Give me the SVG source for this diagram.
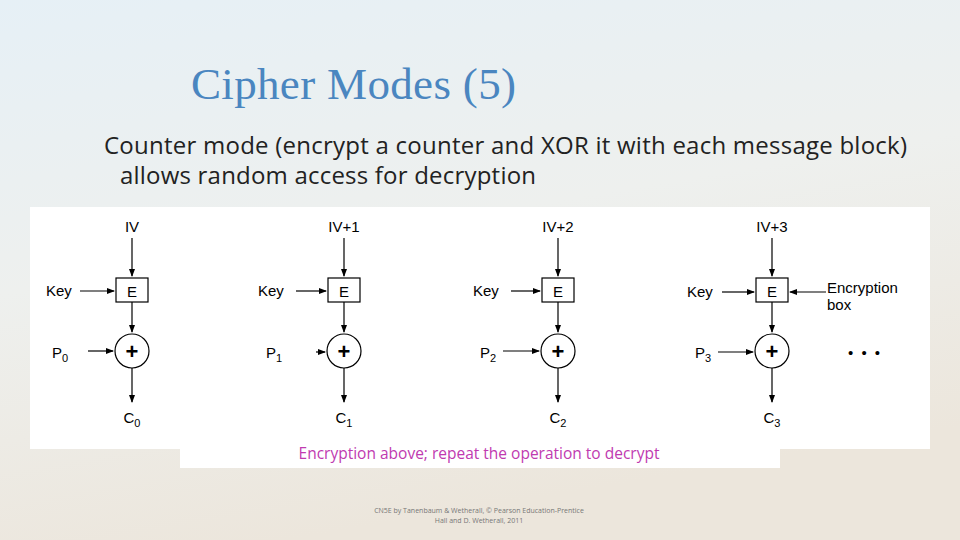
<svg xmlns="http://www.w3.org/2000/svg" width="960" height="540" viewBox="0 0 960 540">
<defs>
<linearGradient id="bg" x1="0" y1="0" x2="0.3" y2="1"><stop offset="0" stop-color="#e6f0f6"/><stop offset="0.5" stop-color="#eef0ee"/><stop offset="1" stop-color="#ece6dc"/></linearGradient>
<marker id="ah" markerWidth="8" markerHeight="8" refX="7" refY="4" orient="auto" markerUnits="userSpaceOnUse"><path d="M0,1 L8,4 L0,7 z" fill="#000"/></marker>
<g id="col">
<line x1="0" y1="238" x2="0" y2="276" class="c"/>
<rect x="-16" y="278" width="32" height="24" fill="#fff" stroke="#000" stroke-width="1.2"/>
<text x="0" y="297" class="t" text-anchor="middle">E</text>
<line x1="0" y1="302" x2="0" y2="332" class="c"/>
<circle cx="0" cy="351" r="17" fill="#fff" stroke="#000" stroke-width="1.2"/>
<text x="0" y="359" text-anchor="middle" font-family="Liberation Sans, sans-serif" font-size="22" font-weight="bold">+</text>
<line x1="0" y1="368" x2="0" y2="402" class="c"/>
</g>
</defs>
<style>
.t{font-family:"Liberation Sans",Arial,sans-serif;font-size:15px;fill:#000}
.c{stroke:#000;stroke-width:1.2;marker-end:url(#ah)}
</style>
<rect width="960" height="540" fill="url(#bg)"/>
<text x="191" y="99" font-family="Liberation Serif, serif" font-size="45" fill="#4a86c0" textLength="325">Cipher Modes (5)</text>
<text x="104" y="154" font-family="Open Sans, sans-serif" font-size="24" fill="#222" textLength="803">Counter mode (encrypt a counter and XOR it with each message block)</text>
<text x="120" y="184" font-family="Open Sans, sans-serif" font-size="24" fill="#222" textLength="416">allows random access for decryption</text>
<rect x="30" y="207" width="900" height="242" fill="#fff"/>
<rect x="180" y="449" width="600" height="19" fill="#fff"/>
<g id="connectors">
<line x1="80" y1="291" x2="114" y2="291" class="c"/>
<line x1="88" y1="351" x2="113" y2="351" class="c"/>
<line x1="296" y1="291" x2="326" y2="291" class="c"/>
<line x1="316" y1="352" x2="325" y2="352" class="c"/>
<line x1="511" y1="291" x2="540" y2="291" class="c"/>
<line x1="503" y1="351" x2="539" y2="351" class="c"/>
<line x1="722" y1="292" x2="754" y2="292" class="c"/>
<line x1="826" y1="292" x2="790" y2="292" class="c"/>
<line x1="718" y1="352" x2="753" y2="352" class="c"/>
</g>
<g id="n0"><use href="#col" x="132"/><text x="132" y="232" class="t" text-anchor="middle">IV</text><text x="46" y="296" class="t">Key</text><text x="52" y="358" class="t">P<tspan font-size="11" dy="4">0</tspan></text><text x="132" y="423" class="t" text-anchor="middle">C<tspan font-size="11" dy="4">0</tspan></text></g>
<g id="n1"><use href="#col" x="344"/><text x="344" y="232" class="t" text-anchor="middle">IV+1</text><text x="258" y="296" class="t">Key</text><text x="266" y="358" class="t">P<tspan font-size="11" dy="4">1</tspan></text><text x="344" y="423" class="t" text-anchor="middle">C<tspan font-size="11" dy="4">1</tspan></text></g>
<g id="n2"><use href="#col" x="558"/><text x="558" y="232" class="t" text-anchor="middle">IV+2</text><text x="473" y="296" class="t">Key</text><text x="480" y="358" class="t">P<tspan font-size="11" dy="4">2</tspan></text><text x="558" y="423" class="t" text-anchor="middle">C<tspan font-size="11" dy="4">2</tspan></text></g>
<g id="n3"><use href="#col" x="772"/><text x="772" y="232" class="t" text-anchor="middle">IV+3</text><text x="687" y="297" class="t">Key</text><text x="695" y="358" class="t">P<tspan font-size="11" dy="4">3</tspan></text><text x="772" y="423" class="t" text-anchor="middle">C<tspan font-size="11" dy="4">3</tspan></text>
<text x="827" y="293" class="t">Encryption</text><text x="827" y="310" class="t">box</text>
<text x="848" y="358" class="t" font-size="20" letter-spacing="2">• • •</text></g>
<text x="479" y="459" text-anchor="middle" font-family="Open Sans, sans-serif" font-size="15.5" fill="#c03ab0">Encryption above; repeat the operation to decrypt</text>
<text x="479" y="513" text-anchor="middle" font-family="Open Sans, sans-serif" font-size="7" fill="#777">CN5E by Tanenbaum &amp; Wetherall, © Pearson Education-Prentice</text>
<text x="479" y="523" text-anchor="middle" font-family="Open Sans, sans-serif" font-size="7" fill="#777">Hall and D. Wetherall, 2011</text>
</svg>
